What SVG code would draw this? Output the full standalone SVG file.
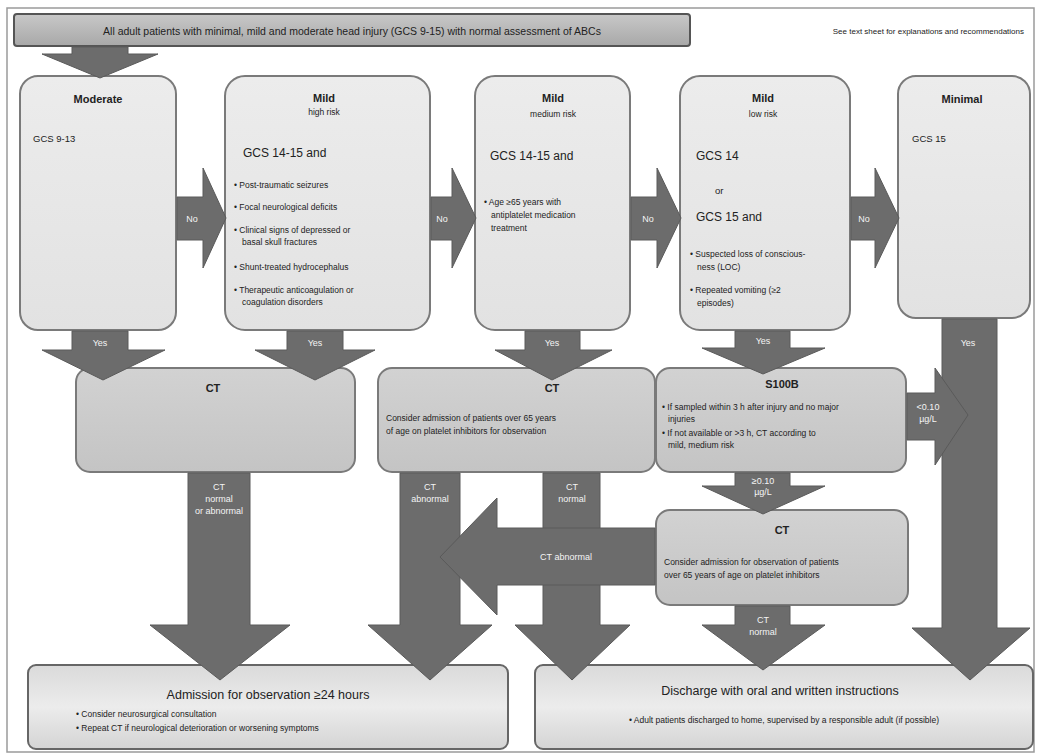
<svg xmlns="http://www.w3.org/2000/svg" width="1037" height="754" viewBox="0 0 1037 754">
<defs>
<linearGradient id="gBox" x1="0" y1="0" x2="0" y2="1">
<stop offset="0" stop-color="#ececec"/><stop offset="1" stop-color="#e2e2e2"/>
</linearGradient>
<linearGradient id="gCT" x1="0" y1="0" x2="0" y2="1">
<stop offset="0" stop-color="#d2d2d2"/><stop offset="1" stop-color="#c4c4c4"/>
</linearGradient>
<linearGradient id="gBot" x1="0" y1="0" x2="0" y2="1">
<stop offset="0" stop-color="#dadada"/><stop offset="0.5" stop-color="#ececec"/><stop offset="1" stop-color="#d4d4d4"/>
</linearGradient>
<linearGradient id="gBan" x1="0" y1="0" x2="0" y2="1">
<stop offset="0" stop-color="#c8c8c8"/><stop offset="1" stop-color="#a8a8a8"/>
</linearGradient>
</defs>
<style>
text{font-family:"Liberation Sans",Arial,sans-serif;fill:#222}
.box{fill:url(#gBox);stroke:#7a7a7a;stroke-width:2}
.ct{fill:url(#gCT);stroke:#7a7a7a;stroke-width:2}
.bot{fill:url(#gBot);stroke:#666;stroke-width:2}
.arr{fill:#6c6c6c;stroke:#5a5a5a;stroke-width:1}
.lab{fill:#f4f4f4;font-size:9px;text-anchor:middle}
.ttl{font-size:11px;font-weight:bold;text-anchor:middle}
.sub{font-size:8.5px;text-anchor:middle}
.gcs{font-size:12px}
.b{font-size:9.5px}
.s{font-size:8.5px}
</style>
<rect x="0" y="0" width="1037" height="754" fill="#ffffff"/>
<rect x="7" y="8" width="1027" height="744" fill="none" stroke="#9a9a9a" stroke-width="1.5"/>

<g id="banner">
<rect x="14" y="14" width="676" height="32" rx="3" fill="url(#gBan)" stroke="#555" stroke-width="2"/>
<text x="352" y="35" font-size="10.5" text-anchor="middle">All adult patients with minimal, mild and moderate head injury (GCS 9-15) with normal assessment of ABCs</text>
</g>
<g id="note">
<text x="1024" y="34" font-size="8" text-anchor="end">See text sheet for explanations and recommendations</text>
</g>

<g id="moderate">
<rect class="box" x="20" y="76" width="156" height="254" rx="18"/>
<text class="ttl" x="98" y="103">Moderate</text>
<text class="b" x="33" y="142">GCS 9-13</text>
</g>

<g id="mild-high">
<rect class="box" x="225" y="76" width="205" height="254" rx="20"/>
<text class="ttl" x="324" y="102">Mild</text>
<text class="sub" x="324" y="115">high risk</text>
<text class="gcs" x="243" y="157">GCS 14-15 and</text>
<text class="s" x="234" y="188">• Post-traumatic seizures</text>
<text class="s" x="234" y="210">• Focal neurological deficits</text>
<text class="s" x="234" y="233">• Clinical signs of depressed or</text>
<text class="s" x="242" y="245">basal skull fractures</text>
<text class="s" x="234" y="270">• Shunt-treated hydrocephalus</text>
<text class="s" x="234" y="293">• Therapeutic anticoagulation or</text>
<text class="s" x="242" y="305">coagulation disorders</text>
</g>

<g id="mild-medium">
<rect class="box" x="475" y="76" width="155" height="254" rx="20"/>
<text class="ttl" x="553" y="102">Mild</text>
<text class="sub" x="553" y="117">medium risk</text>
<text class="gcs" x="490" y="160">GCS 14-15 and</text>
<text class="s" x="484" y="205">• Age ≥65 years with</text>
<text class="s" x="491" y="218">antiplatelet medication</text>
<text class="s" x="491" y="231">treatment</text>
</g>

<g id="mild-low">
<rect class="box" x="680" y="76" width="170" height="254" rx="20"/>
<text class="ttl" x="763" y="102">Mild</text>
<text class="sub" x="763" y="117">low risk</text>
<text class="gcs" x="696" y="160">GCS 14</text>
<text class="b" x="715" y="194">or</text>
<text class="gcs" x="696" y="221">GCS 15 and</text>
<text class="s" x="690" y="257">• Suspected loss of conscious-</text>
<text class="s" x="697" y="270">ness (LOC)</text>
<text class="s" x="690" y="293">• Repeated vomiting (≥2</text>
<text class="s" x="697" y="306">episodes)</text>
</g>

<g id="minimal">
<rect class="box" x="898" y="76" width="132" height="242" rx="18"/>
<text class="ttl" x="962" y="103">Minimal</text>
<text class="b" x="912" y="142">GCS 15</text>
</g>

<g id="ct1">
<rect class="ct" x="76" y="368" width="279" height="104" rx="14"/>
<text class="ttl" x="213" y="392">CT</text>
</g>

<g id="ct2">
<rect class="ct" x="378" y="368" width="277" height="104" rx="14"/>
<text class="ttl" x="552" y="392">CT</text>
<text class="s" x="386" y="421">Consider admission of patients over 65 years</text>
<text class="s" x="386" y="434">of age on platelet inhibitors for observation</text>
</g>

<g id="s100b">
<rect class="ct" x="656" y="368" width="250" height="104" rx="14"/>
<text class="ttl" x="782" y="388">S100B</text>
<text class="s" x="662" y="410">• If sampled within 3 h after injury and no major</text>
<text class="s" x="668" y="422">injuries</text>
<text class="s" x="662" y="436">• If not available or &gt;3 h, CT according to</text>
<text class="s" x="668" y="448">mild, medium risk</text>
</g>

<g id="ct3">
<rect class="ct" x="656" y="510" width="252" height="95" rx="14"/>
<text class="ttl" x="782" y="534">CT</text>
<text class="s" x="664" y="565">Consider admission for observation of patients</text>
<text class="s" x="664" y="578">over 65 years of age on platelet inhibitors</text>
</g>

<g id="admission">
<rect class="bot" x="28" y="665" width="480" height="84" rx="8"/>
<text x="268" y="699" font-size="12.5" text-anchor="middle">Admission for observation ≥24 hours</text>
<text class="s" x="76" y="717">• Consider neurosurgical consultation</text>
<text class="s" x="76" y="731">• Repeat CT if neurological deterioration or worsening symptoms</text>
</g>

<g id="discharge">
<rect class="bot" x="535" y="665" width="498" height="84" rx="8"/>
<text x="780" y="695" font-size="12.5" text-anchor="middle">Discharge with oral and written instructions</text>
<text class="s" x="784" y="723" text-anchor="middle">• Adult patients discharged to home, supervised by a responsible adult (if possible)</text>
</g>

<g id="connectors">
<polygon class="arr" points="72,47 128,47 128,54 158,54 100,78 42,54 72,54"/>
<polygon class="arr" points="177,197 203,197 203,168 226,218 203,268 203,240 177,240"/>
<text class="lab" x="192" y="222">No</text>
<polygon class="arr" points="431,197 452,197 452,168 476,218 452,268 452,240 431,240"/>
<text class="lab" x="442" y="222">No</text>
<polygon class="arr" points="631,197 657,197 657,168 681,218 657,268 657,240 631,240"/>
<text class="lab" x="648" y="222">No</text>
<polygon class="arr" points="851,197 875,197 875,168 899,218 875,268 875,240 851,240"/>
<text class="lab" x="864" y="222">No</text>

<polygon class="arr" points="72,331 128,331 128,350 165,350 103,380 42,350 72,350"/>
<text class="lab" x="100" y="346">Yes</text>
<polygon class="arr" points="287,331 343,331 343,350 375,350 315,380 255,350 287,350"/>
<text class="lab" x="315" y="346">Yes</text>
<polygon class="arr" points="525,331 580,331 580,350 612,350 552,380 495,350 525,350"/>
<text class="lab" x="552" y="346">Yes</text>
<polygon class="arr" points="735,331 790,331 790,348 825,348 763,374 702,348 735,348"/>
<text class="lab" x="763" y="344">Yes</text>
<polygon class="arr" points="942,319 997,319 997,628 1030,628 970,680 912,628 942,628"/>
<text class="lab" x="968" y="346">Yes</text>

<polygon class="arr" points="188,473 250,473 250,625 290,625 220,680 150,625 188,625"/>
<text class="lab" x="219" y="490">CT</text>
<text class="lab" x="219" y="502">normal</text>
<text class="lab" x="219" y="514">or abnormal</text>

<polygon class="arr" points="400,473 460,473 460,625 492,625 430,680 368,625 400,625"/>
<text class="lab" x="430" y="490">CT</text>
<text class="lab" x="430" y="502">abnormal</text>

<polygon class="arr" points="543,473 600,473 600,625 630,625 572,680 515,625 543,625"/>
<text class="lab" x="572" y="490">CT</text>
<text class="lab" x="572" y="502">normal</text>

<polygon class="arr" points="655,528 497,528 497,498 440,557 497,615 497,585 655,585"/>
<text class="lab" x="566" y="560">CT abnormal</text>

<polygon class="arr" points="907,393 935,393 935,368 968,415 935,465 935,440 907,440"/>
<text class="lab" x="928" y="410">&lt;0.10</text>
<text class="lab" x="928" y="422">µg/L</text>

<polygon class="arr" points="735,473 790,473 790,486 825,486 763,514 702,486 735,486"/>
<text class="lab" x="763" y="484">≥0.10</text>
<text class="lab" x="763" y="495">µg/L</text>

<polygon class="arr" points="735,606 790,606 790,625 825,625 763,670 702,625 735,625"/>
<text class="lab" x="763" y="623">CT</text>
<text class="lab" x="763" y="635">normal</text>
</g>
</svg>
